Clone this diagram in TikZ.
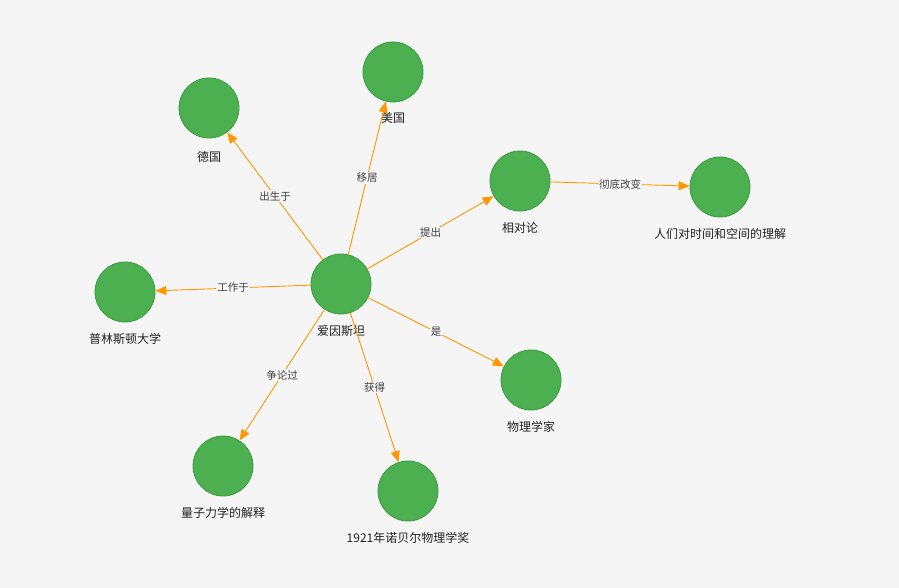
\documentclass[tikz,border=0pt]{standalone}
\usepackage{fontspec}
\setmainfont{Noto Sans CJK SC}
\usetikzlibrary{arrows.meta}
\definecolor{bg}{HTML}{F5F5F5}
\definecolor{nodegreen}{HTML}{4CAF50}
\definecolor{nodeborder}{HTML}{3A9A3E}
\definecolor{edgeor}{HTML}{FF9800}
\definecolor{txt}{HTML}{222222}
\tikzset{
  ent/.style={circle, fill=nodegreen, draw=nodeborder, line width=0.8pt, minimum size=60pt, inner sep=0pt},
  lab/.style={text=txt, font=\fontsize{12}{14}\selectfont},
  rel/.style={draw=edgeor, line width=0.9pt, -{Triangle[length=11pt,width=9pt]}},
  elab/.style={fill=bg, text=black!75, inner sep=1pt, font=\fontsize{10.5}{12}\selectfont}
}
\begin{document}
\begin{tikzpicture}[x=1pt,y=-1pt]
\fill[bg] (0,0) rectangle (899,588);
\useasboundingbox (0,0) rectangle (899,588);
\node[ent] (ai) at (341,284) {};
\node[ent] (de) at (209,108) {};
\node[ent] (us) at (393,72) {};
\node[ent] (rel) at (520,181) {};
\node[ent] (und) at (720,187) {};
\node[ent] (pr) at (125,292) {};
\node[ent] (ph) at (531,380) {};
\node[ent] (qm) at (223,466) {};
\node[ent] (nb) at (408,491) {};
\node[lab] at (341,331) {爱因斯坦};
\node[lab] at (209,157) {德国};
\node[lab] at (393,118) {美国};
\node[lab] at (520,228) {相对论};
\node[lab] at (720,234) {人们对时间和空间的理解};
\node[lab] at (125,339) {普林斯顿大学};
\node[lab] at (531,427) {物理学家};
\node[lab] at (223,513) {量子力学的解释};
\node[lab] at (408,538) {1921年诺贝尔物理学奖};
\draw[rel] (ai) -- node[elab, pos=0.5] {出生于} (de);
\draw[rel] (ai) -- node[elab, pos=0.5] {移居} (us);
\draw[rel] (ai) -- node[elab, pos=0.5] {提出} (rel);
\draw[rel] (rel) -- node[elab, pos=0.5] {彻底改变} (und);
\draw[rel] (ai) -- node[elab, pos=0.5] {工作于} (pr);
\draw[rel] (ai) -- node[elab, pos=0.5] {是} (ph);
\draw[rel] (ai) -- node[elab, pos=0.5] {争论过} (qm);
\draw[rel] (ai) -- node[elab, pos=0.5] {获得} (nb);
\end{tikzpicture}
\end{document}
